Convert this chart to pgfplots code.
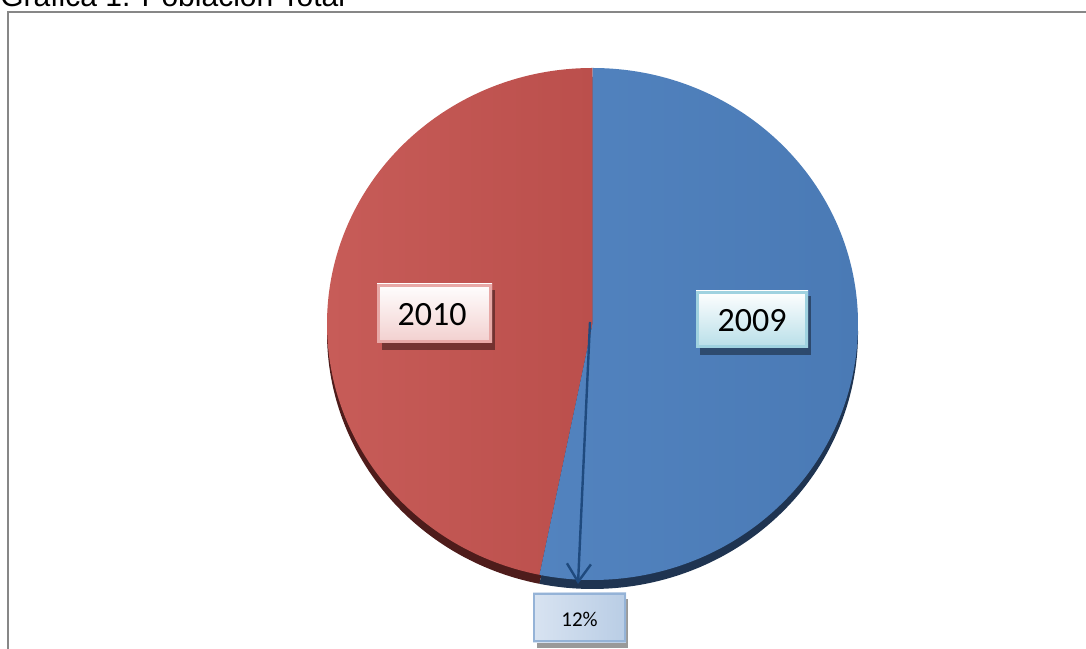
\documentclass[border=0pt]{standalone}
\usepackage{pgfplots}
\pgfplotsset{compat=1.18}
\usepackage{pgfplotstable}
\usepackage{fontspec}
\setmainfont{Carlito}
\newfontfamily\arial{Liberation Sans}
\usetikzlibrary{arrows.meta}
\definecolor{redL}{HTML}{C75C58}
\definecolor{redR}{HTML}{BB4F4C}
\definecolor{blueL}{HTML}{5283BF}
\definecolor{blueR}{HTML}{4A7AB5}
\definecolor{reddark}{HTML}{4E1C1B}
\definecolor{bluedark}{HTML}{1F3451}
\definecolor{arrowblue}{HTML}{1F4A7E}
\definecolor{frame}{HTML}{878787}
\definecolor{boxRb}{HTML}{F2CFCE}
\definecolor{boxRl}{HTML}{E8A9A7}
\definecolor{boxCb}{HTML}{B7DEE8}
\definecolor{boxCl}{HTML}{9FD2E0}
\definecolor{boxBl}{HTML}{D8E3F1}
\definecolor{boxBr}{HTML}{B9CDE5}
\definecolor{boxBline}{HTML}{95B3D7}
\pgfplotstableread{
label value
2009 53.2
2010 46.8
}\piedata
\begin{document}
\begin{tikzpicture}
\pgfplotstablegetelem{0}{value}\of\piedata \let\va\pgfplotsretval
\pgfmathsetmacro\endA{90-3.6*\va}
\pgfmathsetmacro\endB{360+\endA}
\begin{axis}[name=ax, width=543pt, height=324pt, scale only axis, hide axis,
  xmin=0, xmax=1086, ymin=0, ymax=648, clip=false]
% frame
\draw[frame, line width=1.3pt] (axis cs:8,-20) -- (axis cs:8,636) -- (axis cs:1100,636);
% title
\node[anchor=base west, inner sep=0, font=\arial\fontsize{15pt}{18pt}\selectfont] at (axis cs:0,641) {Gráfica 1. Población Total};
% depth
\fill[reddark] (axis cs:592.5,315) -- ++(0,128pt) arc[start angle=90, end angle=\endB, x radius=132.75pt, y radius=128pt] -- cycle;
\fill[bluedark] (axis cs:592.5,315) -- ++(0,128pt) arc[start angle=90, end angle=\endA, x radius=132.75pt, y radius=128pt] -- cycle;
% top faces
\shade[left color=redL, right color=redR] (axis cs:592.5,324) -- ++(0,128pt) arc[start angle=90, end angle=\endB, x radius=132.75pt, y radius=128pt] -- cycle;
\shade[left color=blueL, right color=blueR] (axis cs:592.5,324) -- ++(0,128pt) arc[start angle=90, end angle=\endA, x radius=132.75pt, y radius=128pt] -- cycle;
% arrow
\draw[arrowblue, line width=1.2pt, -{Straight Barb[length=9pt,width=12pt]}] (axis cs:590,326) -- (axis cs:578,64);
% 2010 box
\fill[black, opacity=0.4] (axis cs:382,298) rectangle (axis cs:495,358);
\shade[top color=white, bottom color=boxRb] (axis cs:377,305) rectangle (axis cs:492,364);
\draw[boxRl, line width=1.4pt] (axis cs:378.5,306.5) rectangle (axis cs:490.5,362.5);
\node[font=\fontsize{17pt}{20pt}\selectfont] at (axis cs:432,333) {2010};
% 2009 box
\fill[black, opacity=0.4] (axis cs:700,293) rectangle (axis cs:811,352);
\shade[top color=white, bottom color=boxCb] (axis cs:696,300) rectangle (axis cs:808,357);
\draw[boxCl, line width=1.4pt] (axis cs:697.5,301.5) rectangle (axis cs:806.5,355.5);
\node[font=\fontsize{17pt}{20pt}\selectfont] at (axis cs:752,327) {2009};
% 12% box
\fill[black, opacity=0.4] (axis cs:537,0) rectangle (axis cs:628,49);
\shade[left color=boxBl, right color=boxBr] (axis cs:533,6) rectangle (axis cs:626,55);
\draw[boxBline, line width=1pt] (axis cs:534,7) rectangle (axis cs:625,54);
\node[font=\fontsize{10.5pt}{12pt}\selectfont] at (axis cs:579.5,29) {12\%};
\end{axis}
\pgfresetboundingbox
\useasboundingbox (ax.south west) rectangle (ax.north east);
\end{tikzpicture}
\end{document}
